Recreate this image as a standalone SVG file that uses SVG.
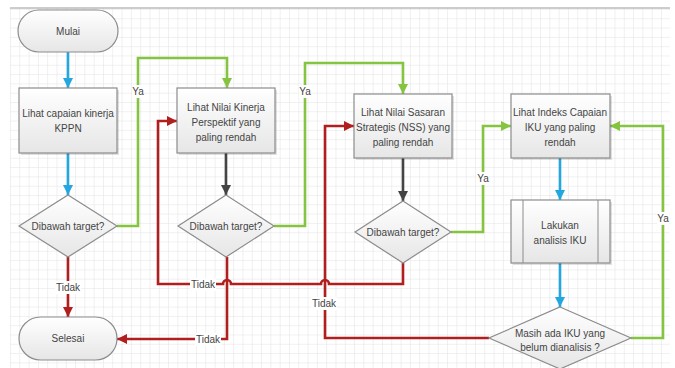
<svg xmlns="http://www.w3.org/2000/svg" width="675" height="368" viewBox="0 0 675 368">
<defs>
<pattern id="grid" x="10" y="9" width="9.3" height="9.3" patternUnits="userSpaceOnUse">
<path d="M0 0 H9.3 M0 0 V9.3" fill="none" stroke="#e2e2e2" stroke-width="1"/>
</pattern>
<linearGradient id="boxg" x1="0" y1="0" x2="0" y2="1">
<stop offset="0" stop-color="#ffffff"/>
<stop offset="1" stop-color="#e6e6e6"/>
</linearGradient>
<marker id="aBlue" viewBox="0 0 10 10" refX="10" refY="5" markerWidth="10" markerHeight="10" markerUnits="userSpaceOnUse" orient="auto"><path d="M0 0 L10 5 L0 10 Z" fill="#22a7e0"/></marker>
<marker id="aGreen" viewBox="0 0 10 10" refX="10" refY="5" markerWidth="10" markerHeight="10" markerUnits="userSpaceOnUse" orient="auto"><path d="M0 0 L10 5 L0 10 Z" fill="#84c441"/></marker>
<marker id="aRed" viewBox="0 0 10 10" refX="10" refY="5" markerWidth="10" markerHeight="10" markerUnits="userSpaceOnUse" orient="auto"><path d="M0 0 L10 5 L0 10 Z" fill="#b01e1e"/></marker>
<marker id="aGray" viewBox="0 0 10 10" refX="10" refY="5" markerWidth="10" markerHeight="10" markerUnits="userSpaceOnUse" orient="auto"><path d="M0 0 L10 5 L0 10 Z" fill="#444444"/></marker>
</defs>
<style>
.shape{fill:url(#boxg);stroke:#8c8c8c;stroke-width:1.2}
.shadow{fill:#000;opacity:0.12}
.t{font-family:"Liberation Sans",Arial,sans-serif;font-size:10px;fill:#444;text-anchor:middle}
.lbl{font-family:"Liberation Sans",Arial,sans-serif;font-size:10px;fill:#444;text-anchor:middle}
.lb{fill:#fff}
.c{fill:none;stroke-width:2.6;stroke-linejoin:miter}
.blue{stroke:#22a7e0}
.green{stroke:#84c441}
.red{stroke:#b01e1e}
.gray{stroke:#444}
</style>
<rect x="0" y="0" width="675" height="368" fill="#fff"/>
<rect x="10" y="8" width="660" height="360" fill="url(#grid)"/>
<line x1="10" y1="8" x2="670" y2="8" stroke="#9a9a9a" stroke-width="1"/>

<g id="connectors">
<path class="c blue" d="M68 52 V88" marker-end="url(#aBlue)"/>
<path class="c blue" d="M68 153 V195" marker-end="url(#aBlue)"/>
<path class="c red" d="M68 257 V317" marker-end="url(#aRed)"/>
<path class="c green" d="M117 226 H138 V58 H227 V88" marker-end="url(#aGreen)"/>
<path class="c gray" d="M226 153 V195" marker-end="url(#aGray)"/>
<path class="c green" d="M274 226 H305 V63 H403 V94" marker-end="url(#aGreen)"/>
<path class="c gray" d="M403 158 V201" marker-end="url(#aGray)"/>
<path class="c green" d="M451 232 H483 V126 H511" marker-end="url(#aGreen)"/>
<path class="c blue" d="M560 158 V200" marker-end="url(#aBlue)"/>
<path class="c blue" d="M560 263 V307" marker-end="url(#aBlue)"/>
<path class="c green" d="M631 338 H663 V126 H610" marker-end="url(#aGreen)"/>
<path class="c red" d="M489 338 H325 V126 H354" marker-end="url(#aRed)"/>
<path class="c red" d="M403 263 V284 H329 A4 4 0 0 0 321 284 H231 A4 4 0 0 0 223 284 H158 V121 H177" marker-end="url(#aRed)"/>
<path class="c red" d="M227 257 V339 H117" marker-end="url(#aRed)"/>
<g id="labels">
<rect class="lb" x="132" y="85" width="12" height="13"/><text class="lbl" x="138" y="95">Ya</text>
<rect class="lb" x="299" y="85" width="12" height="13"/><text class="lbl" x="305" y="95">Ya</text>
<rect class="lb" x="477" y="172" width="12" height="13"/><text class="lbl" x="483" y="182">Ya</text>
<rect class="lb" x="657" y="212" width="12" height="13"/><text class="lbl" x="663" y="222">Ya</text>
<rect class="lb" x="55" y="281" width="26" height="13"/><text class="lbl" x="68" y="291">Tidak</text>
<rect class="lb" x="190" y="278" width="26" height="13"/><text class="lbl" x="203" y="288">Tidak</text>
<rect class="lb" x="195" y="333" width="26" height="13"/><text class="lbl" x="208" y="343">Tidak</text>
<rect class="lb" x="311" y="297" width="26" height="13"/><text class="lbl" x="324" y="307">Tidak</text>
</g>
</g>

<g id="mulai">
<rect class="shape" x="18" y="10" width="100" height="42" rx="21"/>
<text class="t" x="68" y="34.5">Mulai</text>
</g>
<g id="capaian">
<rect class="shadow" x="21" y="90" width="98" height="65"/>
<rect class="shape" x="19" y="88" width="98" height="65"/>
<text class="t" x="68" y="117">Lihat capaian kinerja</text>
<text class="t" x="68" y="132">KPPN</text>
</g>
<g id="dec1">
<polygon class="shape" points="68,195 117,226 68,257 19,226"/>
<text class="t" x="68" y="230">Dibawah target?</text>
</g>
<g id="selesai">
<rect class="shape" x="19" y="317" width="98" height="43" rx="21.5"/>
<text class="t" x="68" y="341.5">Selesai</text>
</g>
<g id="perspektif">
<rect class="shadow" x="179" y="90" width="98" height="65"/>
<rect class="shape" x="177" y="88" width="98" height="65"/>
<text class="t" x="226" y="110.5">Lihat Nilai Kinerja</text>
<text class="t" x="226" y="125.5">Perspektif yang</text>
<text class="t" x="226" y="140.5">paling rendah</text>
</g>
<g id="dec2">
<polygon class="shape" points="226,195 274,226 226,257 178,226"/>
<text class="t" x="226" y="230">Dibawah target?</text>
</g>
<g id="nss">
<rect class="shadow" x="356" y="96" width="98" height="64"/>
<rect class="shape" x="354" y="94" width="98" height="64"/>
<text class="t" x="403" y="115.5">Lihat Nilai Sasaran</text>
<text class="t" x="403" y="130.5">Strategis (NSS) yang</text>
<text class="t" x="403" y="145.5">paling rendah</text>
</g>
<g id="dec3">
<polygon class="shape" points="403,201 451,232 403,263 355,232"/>
<text class="t" x="403" y="236">Dibawah target?</text>
</g>
<g id="iku">
<rect class="shadow" x="513" y="96" width="99" height="64"/>
<rect class="shape" x="511" y="94" width="99" height="64"/>
<text class="t" x="560" y="115.5">Lihat Indeks Capaian</text>
<text class="t" x="560" y="130.5">IKU yang paling</text>
<text class="t" x="560" y="145.5">rendah</text>
</g>
<g id="analisis">
<rect class="shadow" x="513" y="202" width="99" height="63"/>
<rect class="shape" x="511" y="200" width="99" height="63"/>
<line x1="523" y1="200" x2="523" y2="263" stroke="#8c8c8c" stroke-width="1"/>
<line x1="598" y1="200" x2="598" y2="263" stroke="#8c8c8c" stroke-width="1"/>
<text class="t" x="560" y="228.5">Lakukan</text>
<text class="t" x="560" y="243.5">analisis IKU</text>
</g>
<g id="dec4">
<polygon class="shape" points="560,307 631,338 560,369 489,338"/>
<text class="t" x="560" y="336.5">Masih ada IKU yang</text>
<text class="t" x="560" y="350.5">belum dianalisis ?</text>
</g>
</svg>
